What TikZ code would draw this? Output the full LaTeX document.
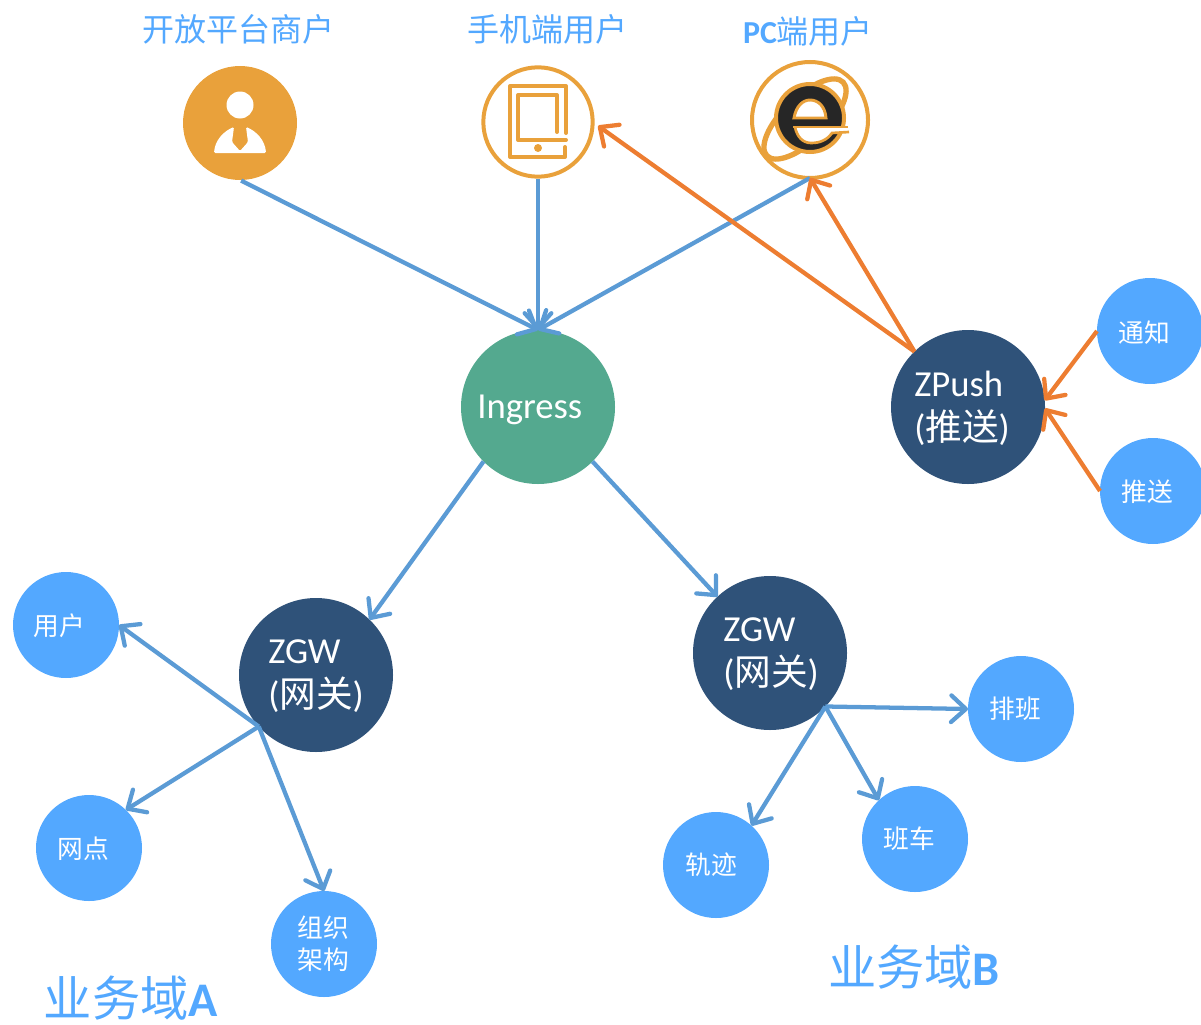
\documentclass[tikz,border=0pt]{standalone}
\usepackage{fontspec}
\setmainfont{Carlito}
\newfontfamily\cjk{Noto Sans CJK SC}
\usetikzlibrary{arrows.meta}
\definecolor{bub}{HTML}{53A8FF}
\definecolor{navy}{HTML}{2F5279}
\definecolor{teal2}{HTML}{54A98F}
\definecolor{bl}{HTML}{5B9BD5}
\definecolor{or}{HTML}{ED7D31}
\definecolor{ic}{HTML}{E9A13B}
\definecolor{ink}{HTML}{262626}
\tikzset{
  x=0.75pt,y=-0.75pt,
  circ/.style={circle,inner sep=0pt,outer sep=0pt},
  smallc/.style={circ,fill=bub,minimum size=79.5pt},
  bigc/.style={circ,fill=navy,minimum size=115.5pt},
  smalltxt/.style={text=white,inner sep=0pt,align=center,font=\cjk\fontsize{19.3}{24}\selectfont},
  bigtxt/.style={text=white,inner sep=0pt,anchor=west,align=left,font=\fontsize{27.5}{33}\selectfont},
  titletxt/.style={text=bub,inner sep=0pt,font=\cjk\fontsize{24}{28}\selectfont},
  domaintxt/.style={text=bub,inner sep=0pt,font=\cjk\fontsize{36.2}{40}\selectfont},
  tipend/.style={-{Straight Barb[length=11pt,width=20pt,round]}},
  bline/.style={tipend,draw=bl,line width=3.2pt},
  oline/.style={tipend,draw=or,line width=3.2pt},
  iconline/.style={draw=ic,line width=3pt},
}
\begin{document}
\begin{tikzpicture}
\useasboundingbox (0,0) rectangle (1201,1024);
% top icons
\node[circ,fill=ic,minimum size=85.5pt] (merchant) at (240,123) {};
\fill[white] (240,105) circle [radius=13.5];
\fill[white,rounded corners=1pt] (214,153) .. controls (215,140) and (224,131) .. (234,127) -- (232,142) -- (240,151) -- (248,142) -- (246,127) .. controls (256,131) and (265,140) .. (266,153) -- cycle;
\node[circ,draw=ic,line width=3pt,minimum size=82pt] (mobile) at (538,122) {};
\draw[iconline,line join=round,line cap=round] (565,147) -- (565,157) -- (510,157) -- (510,86) -- (566,86) -- (566,133);
\draw[iconline,line join=round,line cap=round] (557,132) -- (557,95) -- (518,95) -- (518,140) -- (566,140);
\fill[ic] (538,148) circle [radius=4];
\node[circ,draw=ic,line width=3pt,minimum size=87pt] (pc) at (810,120) {};
\draw[ic,line width=4pt,rotate around={44:(805,119)}] (805,119) ellipse [x radius=53,y radius=22];
\draw[ic,line width=3pt,fill=ink] (810,118) circle [radius=34];
\draw[ic,line width=2.2pt,fill=white] (794,118) .. controls (796,106) and (803,100) .. (810,100) .. controls (818,100) and (825,106) .. (826,118) -- cycle;
\fill[white] (795,127) -- (852,127) -- (852,131) -- (832,133) .. controls (827,140) and (820,143) .. (811,143) .. controls (803,143) and (797,137) .. (795,127) -- cycle;
\draw[ic,line width=2pt] (793,127) -- (848,127);
\draw[ic,line width=2pt] (849,132) -- (832,133) .. controls (827,140) and (820,143) .. (811,143) .. controls (803,143) and (797,137) .. (795,127);
% titles
\node[titletxt] (t1) at (238,29) {开放平台商户};
\node[titletxt] (t2) at (547,29) {手机端用户};
\node[titletxt] (t3) at (808,31) {{\fontspec{Carlito}\bfseries PC}端用户};
% main circles
\node[circ,fill=teal2,minimum size=115.5pt] (ingress) at (538,407) {};
\node[bigtxt] (ingresst) at (477,410) {Ingress};
\node[bigc] (zpush) at (968,407) {};
\node[bigtxt] (zpusht) at (914,408) {ZPush\\({\cjk 推送})};
\node[bigc] (zgwl) at (316,675) {};
\node[bigtxt] (zgwlt) at (268,676) {ZGW\\({\cjk 网关})};
\node[bigc] (zgwr) at (770,653) {};
\node[bigtxt] (zgwrt) at (723,654) {ZGW\\({\cjk 网关})};
% small circles
\node[smallc] (tz) at (1150,331) {};
\node[smalltxt] (tzt) at (1144,333) {通知};
\node[smallc] (ts) at (1153,491) {};
\node[smalltxt] (tst) at (1147,492) {推送};
\node[smallc] (yh) at (66,625) {};
\node[smalltxt] (yht) at (59.5,626) {用户};
\node[smallc] (wd) at (89,848) {};
\node[smalltxt] (wdt) at (83,849) {网点};
\node[smallc] (zz) at (324,944) {};
\node[smalltxt] (zzt) at (323,944) {组织\\架构};
\node[smallc] (pb) at (1021,709) {};
\node[smalltxt] (pbt) at (1015,709) {排班};
\node[smallc] (bc) at (915,839) {};
\node[smalltxt] (bct) at (909,839) {班车};
\node[smallc] (gj) at (716,865) {};
\node[smalltxt] (gjt) at (711,865) {轨迹};
% connectors
\draw[bline,shorten <=1pt] (merchant.south) -- (ingress.north);
\draw[bline,shorten <=2pt] (mobile.south) -- (ingress.north);
\draw[bline] (pc.south) -- (ingress.north);
\draw[oline,shorten >=5pt] (zpush.134) -- (mobile.east);
\draw[oline] (zpush.134) -- (pc.south);
\draw[oline] (tz.west) -- (zpush.5);
\draw[oline] (ts.west) -- (zpush.-1);
\draw[bline] (ingress.225) -- (zgwl.46);
\draw[bline] (ingress.-45) -- (zgwr.133);
\draw[bline] (zgwl.222) -- (yh.east);
\draw[bline] (zgwl.222) -- (wd.46);
\draw[bline] (zgwl.222) -- (zz.north);
\draw[bline] (zgwr.-44) -- (pb.west);
\draw[bline] (zgwr.-44) -- (bc.133);
\draw[bline] (zgwr.-44) -- (gj.48);
% domain labels
\node[domaintxt] (da) at (131,998) {业务域{\fontspec{Carlito}\bfseries A}};
\node[domaintxt] (db) at (914,967) {业务域{\fontspec{Carlito}\bfseries B}};
\end{tikzpicture}
\end{document}
